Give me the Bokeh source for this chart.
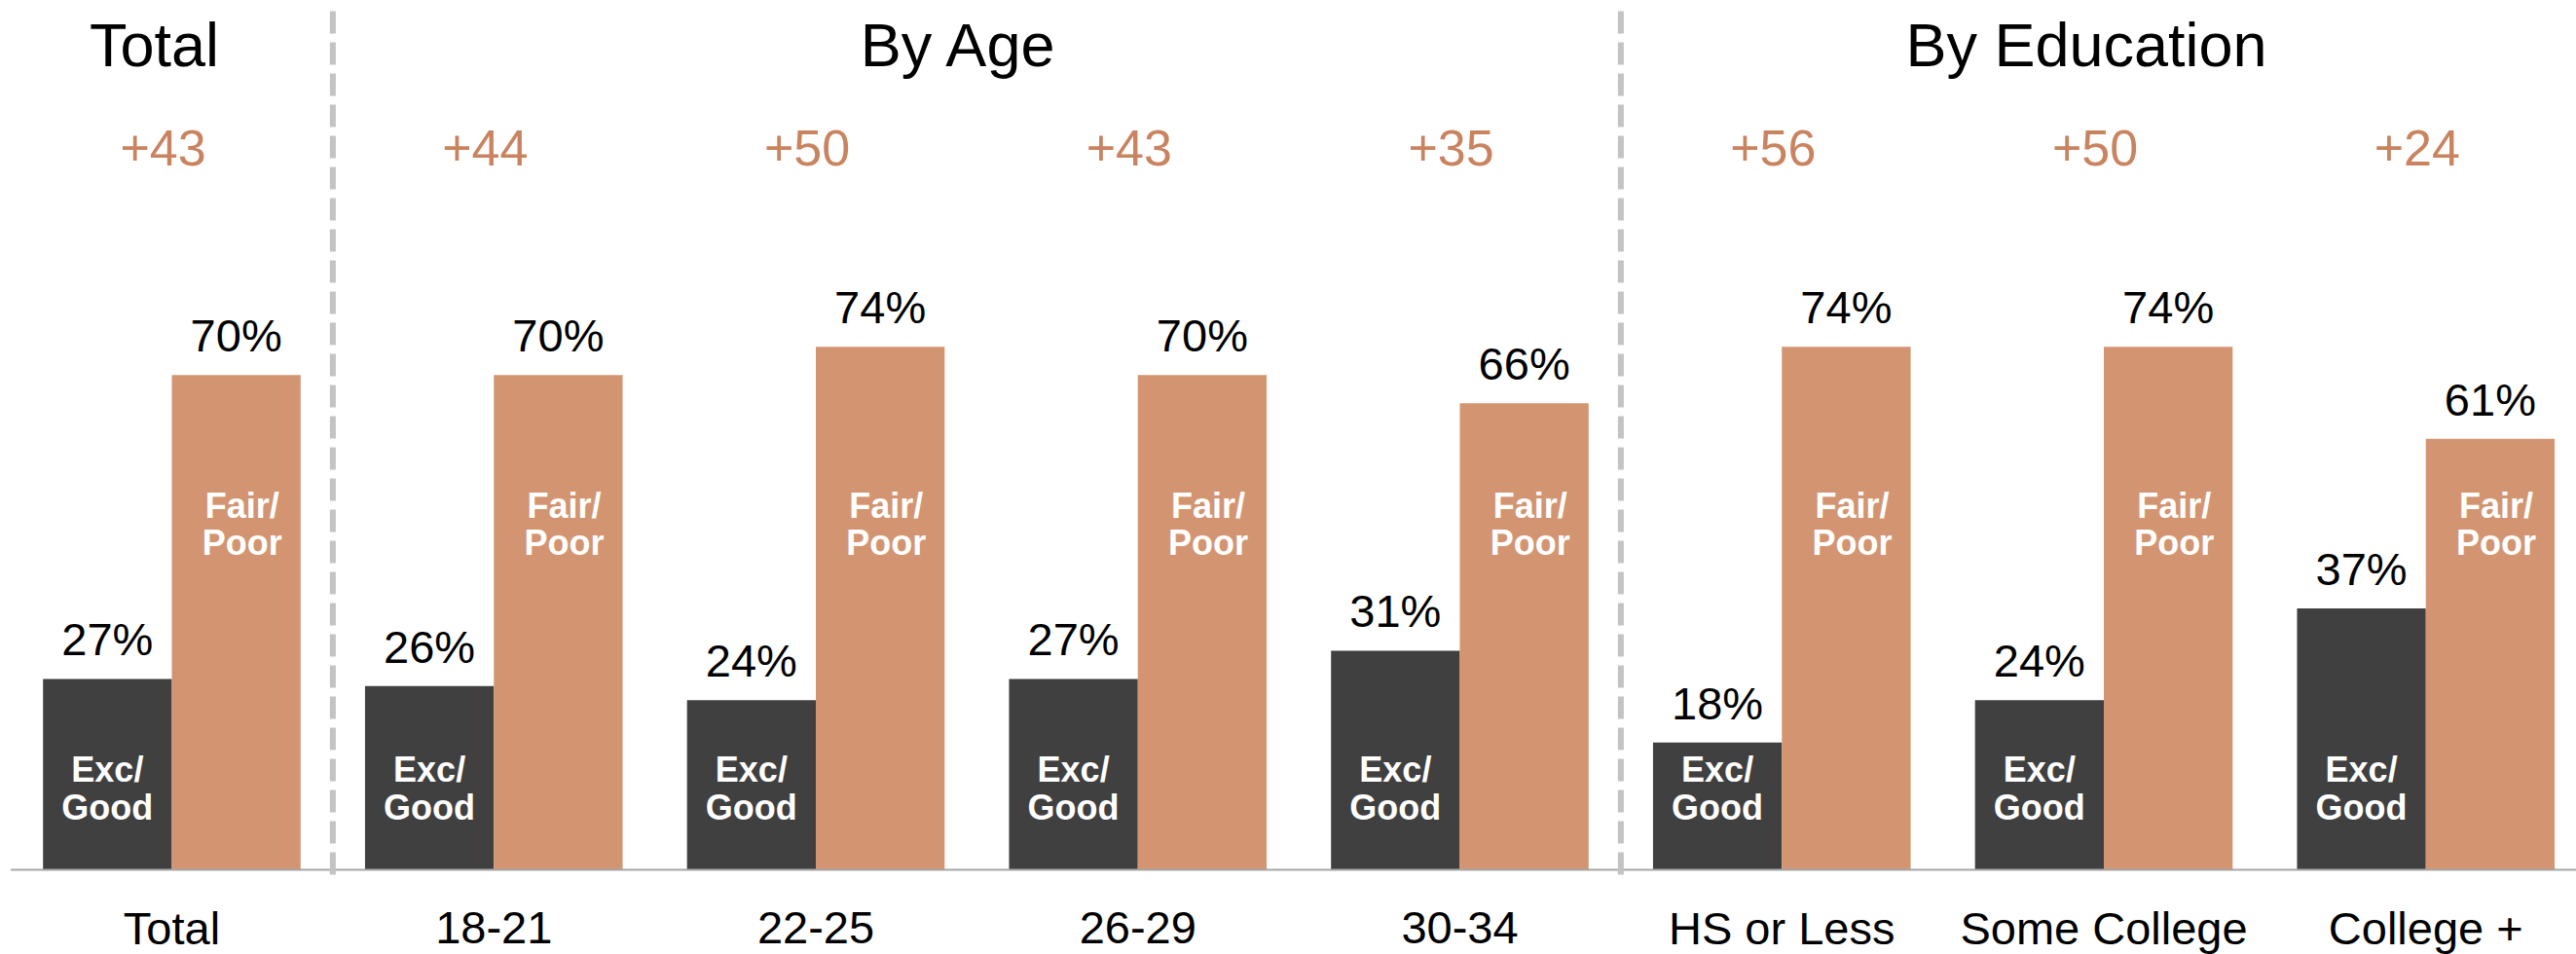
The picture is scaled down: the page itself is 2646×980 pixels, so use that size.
from bokeh.plotting import figure
from bokeh.models import Range1d, ColumnDataSource
from bokeh.core.properties import value
from bokeh.embed import file_html
from bokeh.resources import INLINE

# ---- data ----
groups = ["Total", "18-21", "22-25", "26-29", "30-34", "HS or Less", "Some College", "College +"]
exc_good = [27, 26, 24, 27, 31, 18, 24, 37]
fair_poor = [70, 70, 74, 70, 66, 74, 74, 61]
net_gap = [43, 44, 50, 43, 35, 56, 50, 24]
section_names = ["Total", "By Age", "By Education"]
section_members = [[0], [1, 2, 3, 4], [5, 6, 7]]
exc_label = ["Exc/", "Good"]
fair_label = ["Fair/", "Poor"]

# ---- style / layout ----
FONT = "Liberation Sans"
DARK = "#404040"
ORANGE = "#D39571"
NET_COLOR = "#C9835F"
W, H = 2646, 980
PX_UNIT = 330.75      # px per group
PX_PCT = 7.26         # px per percentage point
BASE_PX = 893         # baseline position from top
X0 = -176 / PX_UNIT
Y_TOP = BASE_PX / PX_PCT
Y_BOTTOM = Y_TOP - H / PX_PCT
BAR_W = 0.4
HALF = BAR_W / 2

p = figure(width=W, height=H, output_backend="svg", toolbar_location=None,
           x_range=Range1d(X0, X0 + W / PX_UNIT),
           y_range=Range1d(Y_BOTTOM, Y_TOP),
           x_axis_type=None, y_axis_type=None, min_border=0)
p.outline_line_color = None
p.grid.visible = False
p.background_fill_color = "white"

idx = list(range(len(groups)))
src = ColumnDataSource(dict(
    xd=[i - HALF for i in idx], xo=[i + HALF for i in idx], xc=idx,
    exc=exc_good, fair=fair_poor,
    exc_txt=[f"{v}%" for v in exc_good], fair_txt=[f"{v}%" for v in fair_poor],
    exc_lab_y=[v + 5.58 for v in exc_good], fair_lab_y=[v + 5.58 for v in fair_poor],
    net_txt=[f"+{v}" for v in net_gap], grp=groups,
))

p.vbar(x="xd", top="exc", bottom=0, width=BAR_W, fill_color=DARK, line_color=None, source=src)
p.vbar(x="xo", top="fair", bottom=0, width=BAR_W, fill_color=ORANGE, line_color=None, source=src)

# baseline
p.segment(x0=[-0.5], x1=[X0 + W / PX_UNIT], y0=[0], y1=[0], line_color="#A6A6A6", line_width=2)

# dividers between sections
div_x = [max(m) + 0.5 for m in section_members[:-1]]
p.segment(x0=div_x, x1=div_x, y0=[-0.7] * len(div_x), y1=[121.5] * len(div_x),
          line_color="#C3C3C3", line_width=6, line_dash="23 9")

# value labels
p.text(x="xd", y="exc_lab_y", text="exc_txt", source=src, text_font=value(FONT),
       text_font_size="47px", text_align="center", text_baseline="middle", text_color="black")
p.text(x="xo", y="fair_lab_y", text="fair_txt", source=src, text_font=value(FONT),
       text_font_size="47px", text_align="center", text_baseline="middle", text_color="black")

# in-bar labels
for line, yy in zip(exc_label, [14.19, 8.82]):
    p.text(x="xd", y=yy, text=value(line), source=src, text_font=value(FONT),
           text_font_size="36px", text_font_style="bold", text_align="center",
           text_baseline="middle", text_color="white")
for line, yy in zip(fair_label, [51.5, 46.3]):
    p.text(x="xo", y=yy, text=value(line), source=src, text_font=value(FONT), x_offset=6,
           text_font_size="36px", text_font_style="bold", text_align="center",
           text_baseline="middle", text_color="white")

# net gap labels
p.text(x="xc", y=102.2, text="net_txt", source=src, text_font=value(FONT), x_offset=-9,
       text_font_size="52px", text_align="center", text_baseline="middle", text_color=NET_COLOR)

# category labels
p.text(x="xc", y=-8.26, text="grp", source=src, text_font=value(FONT),
       text_font_size="47px", text_align="center", text_baseline="middle", text_color="black")

# section titles
sec_x = [sum(m) / len(m) for m in section_members]
p.text(x=sec_x, y=[116.7] * len(sec_x), text=section_names, text_font=value(FONT), x_offset=-18,
       text_font_size="63px", text_align="center", text_baseline="middle", text_color="black")

open("out.html", "w").write(file_html(p, INLINE))
